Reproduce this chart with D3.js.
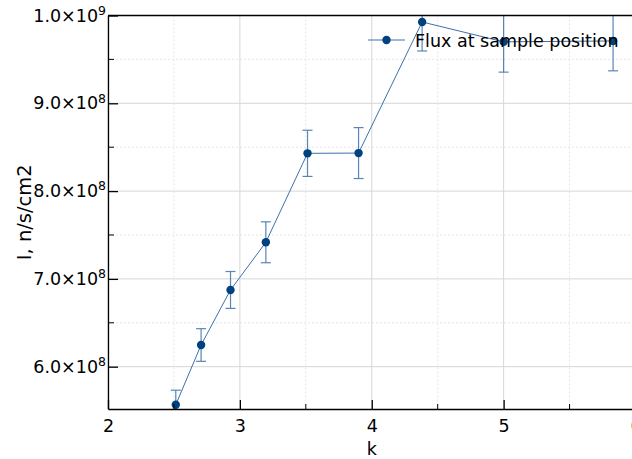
<!DOCTYPE html>
<html>
<head>
<meta charset="utf-8">
<script src="https://cdn.jsdelivr.net/npm/d3@7/dist/d3.min.js"></script>
<style>
  body { margin: 0; background: #fff; }
  svg { display: block; font-family: "DejaVu Sans", sans-serif; }
</style>
</head>
<body>
<div id="chart"></div>
<script>
// data
const kValues = [2.514, 2.706, 2.929, 3.197, 3.513, 3.90, 4.382, 5.0, 5.83];
const flux = [5.567e8, 6.247e8, 6.874e8, 7.417e8, 8.43e8, 8.433e8, 9.926e8, 9.70e8, 9.71e8];
const fluxErr = [0.165e8, 0.186e8, 0.21e8, 0.233e8, 0.263e8, 0.29e8, 0.33e8, 0.345e8, 0.34e8];
const xTicks = [2, 3, 4, 5, 6];
const yTicks = [6e8, 7e8, 8e8, 9e8, 1e9];
const legendLabel = "Flux at sample position";

const width = 632, height = 459;
const pLeft = 108, pTop = 15.5, pRight = 635.5, pBottom = 409;

const x = d3.scaleLinear().domain([2, 6]).range([pLeft, pRight]);
const y = d3.scaleLinear().domain([5.518e8, 1.0e9]).range([pBottom, pTop]);

const lineColor = "#3d71ab";
const markColor = "#00427f";
const fs = 17.5;

const svg = d3.select("#chart").append("svg")
  .attr("width", width).attr("height", height);

svg.append("defs").append("clipPath").attr("id", "plot")
  .append("rect").attr("x", pLeft).attr("y", pTop)
  .attr("width", pRight - pLeft).attr("height", pBottom - pTop);

// grid, minor dashed first
const xMinor = d3.range(2.5, 6, 1);
const yMinor = [5.5e8, 6.5e8, 7.5e8, 8.5e8, 9.5e8].filter(v => v >= y.domain()[0]);
const grid = svg.append("g");
grid.selectAll(".gxm").data(xMinor).join("line")
  .attr("x1", d => x(d)).attr("x2", d => x(d)).attr("y1", pTop).attr("y2", pBottom)
  .attr("stroke", "#e6e6e6").attr("stroke-dasharray", "2,2");
grid.selectAll(".gym").data(yMinor).join("line")
  .attr("y1", d => y(d)).attr("y2", d => y(d)).attr("x1", pLeft).attr("x2", pRight)
  .attr("stroke", "#e6e6e6").attr("stroke-dasharray", "2,2");
grid.selectAll(".gx").data(xTicks).join("line")
  .attr("x1", d => x(d)).attr("x2", d => x(d)).attr("y1", pTop).attr("y2", pBottom)
  .attr("stroke", "#d6d6d6");
grid.selectAll(".gy").data(yTicks).join("line")
  .attr("y1", d => y(d)).attr("y2", d => y(d)).attr("x1", pLeft).attr("x2", pRight)
  .attr("stroke", "#d6d6d6");

// data
const pts = kValues.map((k, i) => ({k, v: flux[i], e: fluxErr[i]}));
const plot = svg.append("g").attr("clip-path", "url(#plot)");

plot.append("path").datum(pts)
  .attr("fill", "none").attr("stroke", lineColor).attr("stroke-width", 1)
  .attr("d", d3.line().x(d => x(d.k)).y(d => y(d.v)));

const eb = plot.append("g").attr("stroke", lineColor).attr("stroke-width", 1.2).attr("opacity", 0.85);
eb.selectAll(".v").data(pts).join("line")
  .attr("x1", d => x(d.k)).attr("x2", d => x(d.k))
  .attr("y1", d => y(d.v - d.e)).attr("y2", d => y(d.v + d.e));
eb.selectAll(".t").data(pts).join("line")
  .attr("x1", d => x(d.k) - 5).attr("x2", d => x(d.k) + 5)
  .attr("y1", d => y(d.v + d.e)).attr("y2", d => y(d.v + d.e));
eb.selectAll(".b").data(pts).join("line")
  .attr("x1", d => x(d.k) - 5).attr("x2", d => x(d.k) + 5)
  .attr("y1", d => y(d.v - d.e)).attr("y2", d => y(d.v - d.e));

plot.selectAll("circle").data(pts).join("circle")
  .attr("cx", d => x(d.k)).attr("cy", d => y(d.v)).attr("r", 4.2)
  .attr("fill", markColor);

// axes (ticks pointing inward)
const xAxis = svg.append("g").attr("transform", `translate(0,${pBottom})`)
  .call(d3.axisBottom(x).tickValues(xTicks).tickSizeInner(-9).tickSizeOuter(0).tickPadding(11).tickFormat(d3.format("d")));
xAxis.append("g").selectAll("line").data(xMinor).join("line")
  .attr("x1", d => x(d)).attr("x2", d => x(d)).attr("y1", 0).attr("y2", -5).attr("stroke", "#000");

const yAxis = svg.append("g").attr("transform", `translate(${pLeft},0)`)
  .call(d3.axisLeft(y).tickValues(yTicks).tickSizeInner(-10).tickSizeOuter(0).tickPadding(2));
yAxis.append("g").selectAll("line").data(yMinor).join("line")
  .attr("y1", d => y(d)).attr("y2", d => y(d)).attr("x1", 0).attr("x2", 6).attr("stroke", "#000");

[xAxis, yAxis].forEach(a => {
  a.select(".domain").attr("stroke", "#000").attr("stroke-width", 1.3);
  a.selectAll(".tick line").attr("stroke", "#000").attr("stroke-width", 1.3);
  a.selectAll("text").attr("font-size", fs).attr("fill", "#000").attr("font-family", "DejaVu Sans");
});

// y tick labels as mantissa x 10^exp with a real superscript
yAxis.selectAll(".tick text").each(function(v) {
  const e = Math.floor(Math.log10(v));
  const t = d3.select(this).text("");
  t.append("tspan").text((v / Math.pow(10, e)).toFixed(1) + "\u00d710");
  t.append("tspan").attr("font-size", 12.5).attr("dy", "-0.55em").text(e);
});

// top frame
svg.append("line").attr("x1", pLeft).attr("x2", pRight).attr("y1", pTop).attr("y2", pTop)
  .attr("stroke", "#000").attr("stroke-width", 1.3);

// axis labels
svg.append("text").attr("x", x(4)).attr("y", 455).attr("text-anchor", "middle")
  .attr("font-size", fs).text("k");
svg.append("text").attr("transform", `translate(31,${(pTop + pBottom) / 2}) rotate(-90)`)
  .attr("text-anchor", "middle").attr("font-size", 19.5).text("I, n/s/cm2");

// legend
const lg = svg.append("g").attr("transform", "translate(368,40)");
lg.append("line").attr("x1", 0).attr("x2", 37).attr("stroke", lineColor).attr("stroke-width", 1);
lg.append("circle").attr("cx", 18.5).attr("r", 4.2).attr("fill", markColor);
lg.append("text").attr("x", 47).attr("y", 6.5).attr("font-size", fs).text(legendLabel);
</script>
</body>
</html>
